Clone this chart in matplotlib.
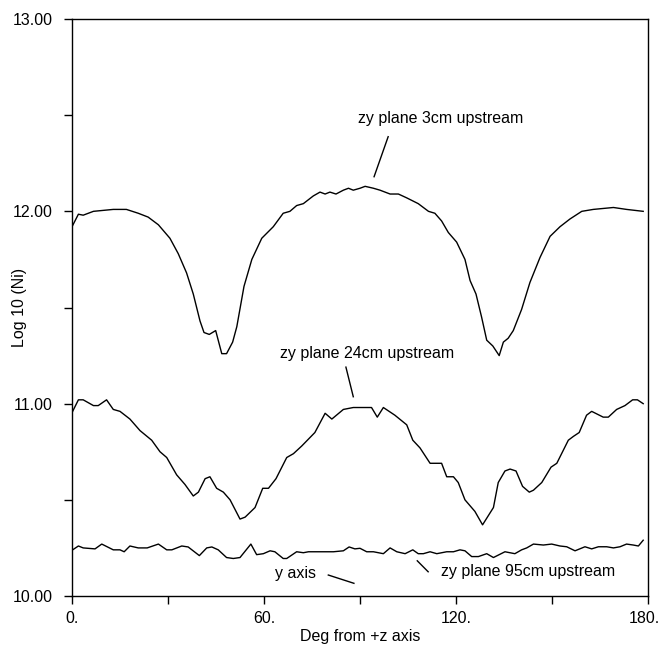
import matplotlib
matplotlib.use("Agg")
import matplotlib.pyplot as plt
import matplotlib.transforms as mtransforms
from matplotlib.ticker import MultipleLocator, FixedLocator

plt.rcParams["font.family"] = ["Liberation Sans", "DejaVu Sans"]

# zy plane 3cm upstream
deg_3 = [0, 2, 3.5, 6.7, 12.9, 17, 20.7, 23.8, 27, 30.6, 33.2, 35.8, 37.9, 40,
         41.25, 42.9, 44.9, 46.8, 48.3, 50.2, 51.5, 53.75, 56.2, 59.3, 62.9, 66,
         68.1, 70.2, 72.3, 75.4, 77.5, 79.1, 80.6, 82.5, 84.8, 86.4, 87.9, 90,
         91.6, 94.2, 96.25, 99.4, 102, 104.6, 108.2, 111.4, 113.4, 115.5, 117.6,
         120.2, 122.8, 124.4, 126.25, 128, 129.6, 131.5, 133.5, 134.8, 136.3,
         137.9, 140.5, 143.1, 146.25, 149.4, 152.5, 155.6, 159.3, 162.9, 169.2,
         173.3, 178.5]
log_3 = [11.92, 11.985, 11.98, 12.00, 12.01, 12.01, 11.99, 11.97, 11.93, 11.86,
         11.78, 11.68, 11.57, 11.43, 11.37, 11.36, 11.38, 11.26, 11.26, 11.32,
         11.40, 11.61, 11.75, 11.86, 11.92, 11.99, 12.00, 12.03, 12.04, 12.08,
         12.10, 12.09, 12.10, 12.09, 12.11, 12.12, 12.11, 12.12, 12.13, 12.12,
         12.11, 12.09, 12.09, 12.07, 12.04, 12.00, 11.99, 11.95, 11.89, 11.84,
         11.75, 11.64, 11.57, 11.45, 11.33, 11.30, 11.25, 11.32, 11.34, 11.38,
         11.49, 11.63, 11.76, 11.87, 11.92, 11.96, 12.00, 12.01, 12.02, 12.01,
         12.00]

# zy plane 24cm upstream
deg_24 = [0.2, 2, 3.5, 6.7, 8.2, 10.8, 12.9, 15, 18.1, 21.25, 24.9, 27.5, 29.6,
          32.7, 35.3, 37.9, 39.5, 41.6, 43.1, 45.2, 47.3, 49.4, 52.5, 54.1, 57.2,
          59.6, 61.4, 63.75, 67.1, 69.2, 71.8, 75.9, 79.1, 81.2, 84.8, 87.9, 90,
          93.6, 95.4, 97.3, 100.9, 104.6, 106.5, 108.75, 111.9, 115.5, 117.1,
          119.2, 120.7, 122.8, 125.9, 128.3, 131.7, 133.2, 135.3, 136.9, 138.75,
          140.8, 142.9, 144.2, 146.8, 149.7, 151.5, 155.1, 156.7, 158.5, 160.8,
          162.4, 166, 167.6, 170.2, 172.8, 175.2, 176.7, 178.5]
log_24 = [10.96, 11.02, 11.02, 10.99, 10.99, 11.02, 10.97, 10.96, 10.92, 10.86,
          10.81, 10.75, 10.72, 10.63, 10.58, 10.52, 10.54, 10.61, 10.62, 10.56,
          10.54, 10.50, 10.40, 10.41, 10.46, 10.56, 10.56, 10.61, 10.72, 10.74,
          10.78, 10.85, 10.95, 10.92, 10.97, 10.98, 10.98, 10.98, 10.93, 10.98,
          10.94, 10.89, 10.81, 10.77, 10.69, 10.69, 10.62, 10.62, 10.59, 10.50,
          10.44, 10.37, 10.46, 10.59, 10.65, 10.66, 10.65, 10.57, 10.54, 10.55,
          10.59, 10.67, 10.69, 10.81, 10.83, 10.85, 10.94, 10.96, 10.93, 10.93,
          10.97, 10.99, 11.02, 11.02, 11.00]

# zy plane 95cm upstream / y axis
deg_95 = [0.2, 2, 3.5, 7.2, 9.3, 12.9, 15, 16.3, 18.1, 20.7, 23.5, 27, 29.6, 31.2,
          34.3, 36.3, 39.8, 42.1, 43.7, 45.7, 48.3, 50.4, 52.5, 55.9, 57.7, 59.8,
          61.9, 63.4, 66, 67.1, 70.2, 72.3, 73.9, 76.5, 79.6, 81.7, 84.8, 86.6,
          88.4, 90, 92.1, 94.2, 97.3, 99.4, 101.5, 104.1, 106.5, 108.2, 109.8,
          111.9, 114, 117.1, 119.2, 121.25, 122.8, 124.9, 127, 129.6, 131.7,
          135.3, 138.4, 140.5, 142.1, 144.2, 147.3, 149.9, 152.5, 154.6, 157.2,
          160.3, 162.4, 164.5, 167.1, 169.2, 171.25, 173.3, 175.4, 177, 178.5]
log_95 = [10.24, 10.26, 10.25, 10.245, 10.27, 10.24, 10.24, 10.23, 10.26, 10.25,
          10.25, 10.27, 10.24, 10.24, 10.26, 10.255, 10.21, 10.25, 10.255, 10.24,
          10.20, 10.195, 10.20, 10.27, 10.215, 10.22, 10.235, 10.23, 10.195,
          10.195, 10.23, 10.225, 10.23, 10.23, 10.23, 10.23, 10.235, 10.255,
          10.245, 10.248, 10.23, 10.23, 10.22, 10.25, 10.23, 10.22, 10.24, 10.22,
          10.22, 10.23, 10.22, 10.23, 10.23, 10.24, 10.235, 10.205, 10.205, 10.22,
          10.20, 10.23, 10.22, 10.24, 10.25, 10.27, 10.265, 10.27, 10.26, 10.256,
          10.235, 10.256, 10.245, 10.256, 10.256, 10.25, 10.256, 10.27, 10.265,
          10.26, 10.29]

x_major = [0, 60, 120, 180]
x_major_labels = ["0.", "60.", "120.", "180."]
y_major = [10, 11, 12, 13]
y_major_labels = ["10.00", "11.00", "12.00", "13.00"]

fig = plt.figure(figsize=(6.61, 6.47), dpi=100)
ax = fig.add_axes([72 / 661, 1 - 596 / 647, 576 / 661, 577 / 647])

for d, v in ((deg_3, log_3), (deg_24, log_24), (deg_95, log_95)):
    ax.plot(d, v, color="black", lw=1.0)

ax.set_xlim(0, 180)
ax.set_ylim(10, 13)
ax.xaxis.set_major_locator(FixedLocator(x_major))
ax.set_xticklabels(x_major_labels)
ax.xaxis.set_minor_locator(MultipleLocator(30))
ax.yaxis.set_major_locator(FixedLocator(y_major))
ax.set_yticklabels(y_major_labels)
ax.yaxis.set_minor_locator(MultipleLocator(0.5))
ax.tick_params(which="both", direction="out", length=6, width=1.0,
               labelsize=11.5, top=False, right=False)
ax.tick_params(axis="x", pad=5)
ax.tick_params(axis="y", pad=8)
for s in ax.spines.values():
    s.set_linewidth(1.0)

# nudge the last x label a little left, as in the original
lbl = ax.get_xticklabels()[-1]
lbl.set_transform(lbl.get_transform() +
                  mtransforms.ScaledTranslation(-4 / 100, 0, fig.dpi_scale_trans))

ax.set_xlabel("Deg from +z axis", fontsize=11.5)
ax.xaxis.set_label_coords(0.5, -0.058)
ax.set_ylabel("Log 10 (Ni)", fontsize=11.5)
ax.yaxis.set_label_coords(-0.078, 0.5)

fs = 11.5
ax.text(115.3, 12.485, "zy plane 3cm upstream", ha="center", va="center", fontsize=fs)
ax.plot([98.8, 94.4], [12.388, 12.18], color="black", lw=1.0)
ax.text(92.2, 11.26, "zy plane 24cm upstream", ha="center", va="center", fontsize=fs)
ax.plot([85.6, 87.9], [11.19, 11.036], color="black", lw=1.0)
ax.text(69.7, 10.119, "y axis", ha="center", va="center", fontsize=fs)
ax.plot([80.1, 88.1], [10.109, 10.066], color="black", lw=1.0)
ax.text(142.4, 10.126, "zy plane 95cm upstream", ha="center", va="center", fontsize=fs)
ax.plot([107.9, 111.3], [10.183, 10.126], color="black", lw=1.0)

fig.savefig("out.png", dpi=100)
